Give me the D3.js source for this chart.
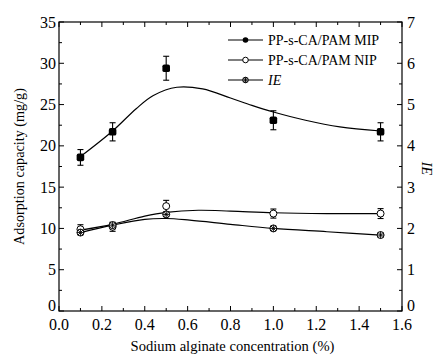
<!DOCTYPE html>
<html>
<head>
<meta charset="utf-8">
<script src="https://cdn.jsdelivr.net/npm/d3@7"></script>
<style>
  body { margin: 0; background: #fff; }
  svg { display: block; }
  svg text { font-family: "Liberation Serif", "Times New Roman", Times, serif; }
</style>
</head>
<body>
<svg width="438" height="356"></svg>
<script>
// measured points
const conc = [0.1, 0.25, 0.5, 1.0, 1.5];
const mipValues = [18.6, 21.7, 29.4, 23.1, 21.7];
const mipErrors = [0.95, 1.1, 1.45, 1.15, 1.1];
const nipValues = [9.9, 10.2, 12.7, 11.8, 11.8];
const nipErrors = [0.55, 0.55, 0.7, 0.55, 0.6];
const ieValues = [1.9, 2.08, 2.34, 2.0, 1.84];

// fitted curves
const mipFit = [[0.1, 18.7], [0.25, 21.8], [0.36, 24.5], [0.44, 26.1], [0.55, 27.1], [0.67, 26.9],
                [0.8, 25.8], [0.9, 24.9], [1.0, 24.1], [1.15, 23.1], [1.31, 22.3], [1.5, 21.8]];
const nipFit = [[0.1, 9.8], [0.25, 10.5], [0.4, 11.5], [0.5, 11.95], [0.65, 12.2], [0.8, 12.1],
                [1.0, 11.9], [1.25, 11.8], [1.5, 11.8]];
const ieFit = [[0.1, 1.9], [0.25, 2.08], [0.4, 2.22], [0.5, 2.24], [0.61, 2.2], [0.8, 2.1],
               [1.0, 2.0], [1.25, 1.92], [1.5, 1.84]];

const xTicks = [0, 0.2, 0.4, 0.6, 0.8, 1.0, 1.2, 1.4, 1.6];
const yTicks = [0, 5, 10, 15, 20, 25, 30, 35];
const ieTicks = [0, 1, 2, 3, 4, 5, 6, 7];
const legendLabels = ["PP-s-CA/PAM MIP", "PP-s-CA/PAM NIP", "IE"];

const pl = 59, pt = 22, pr = 402, pb = 311;
const svg = d3.select("svg");

const x = d3.scaleLinear().domain([0, 1.6]).range([pl, pr]);
const y = d3.scaleLinear().domain([0, 35]).range([pb, pt]);
const yIE = d3.scaleLinear().domain([0, 7]).range([pb, pt]);

// frame
svg.append("rect").attr("x", pl).attr("y", pt).attr("width", pr - pl).attr("height", pb - pt)
  .attr("fill", "none").attr("stroke", "#000").attr("stroke-width", 1.2);

// ticks (inward)
const minorX = d3.range(0, 1.61, 0.1);
const minorY = d3.range(0, 35.1, 2.5);
const minorIE = d3.range(0, 7.01, 0.5);
const tk = svg.append("g").attr("stroke", "#000").attr("stroke-width", 1);
minorX.forEach(v => {
  const len = Math.abs(v * 5 - Math.round(v * 5)) < 1e-6 ? 5 : 3;
  tk.append("line").attr("x1", x(v)).attr("x2", x(v)).attr("y1", pb).attr("y2", pb - len);
  tk.append("line").attr("x1", x(v)).attr("x2", x(v)).attr("y1", pt).attr("y2", pt + len);
});
minorY.forEach(v => {
  const len = v % 5 === 0 ? 5 : 3;
  tk.append("line").attr("x1", pl).attr("x2", pl + len).attr("y1", y(v)).attr("y2", y(v));
});
minorIE.forEach(v => {
  const len = v % 1 === 0 ? 5 : 3;
  tk.append("line").attr("x1", pr).attr("x2", pr - len).attr("y1", yIE(v)).attr("y2", yIE(v));
});

// tick labels
const lab = svg.append("g").attr("font-size", 16).attr("fill", "#000");
xTicks.forEach(v => {
  lab.append("text").attr("x", x(v)).attr("y", pb + 18.5).attr("text-anchor", "middle").text(v.toFixed(1));
});
yTicks.forEach(v => {
  lab.append("text").attr("x", pl - 3).attr("y", y(v) + (v === 0 ? 0 : 5.5)).attr("text-anchor", "end").text(v);
});
ieTicks.forEach(v => {
  lab.append("text").attr("x", pr + 5).attr("y", yIE(v) + (v === 0 ? 0 : 5.5)).attr("text-anchor", "start").text(v);
});

// axis titles
svg.append("text").attr("x", (pl + pr) / 2 + 2).attr("y", 351).attr("text-anchor", "middle")
  .attr("font-size", 14.6).text("Sodium alginate concentration (%)");
svg.append("text").attr("transform", `translate(24,${(pt + pb) / 2}) rotate(-90)`)
  .attr("text-anchor", "middle").attr("font-size", 14.2).text("Adsorption capacity (mg/g)");
svg.append("text").attr("transform", `translate(422,${(pt + pb) / 2 + 2}) rotate(90)`)
  .attr("text-anchor", "middle").attr("font-size", 14.2).attr("font-style", "italic").text("IE");

// fitted curves
const lineLeft = d3.line().x(d => x(d[0])).y(d => y(d[1])).curve(d3.curveCatmullRom.alpha(0.5));
const lineIE = d3.line().x(d => x(d[0])).y(d => yIE(d[1])).curve(d3.curveCatmullRom.alpha(0.5));
svg.append("path").attr("d", lineLeft(mipFit)).attr("fill", "none").attr("stroke", "#000").attr("stroke-width", 1.2);
svg.append("path").attr("d", lineLeft(nipFit)).attr("fill", "none").attr("stroke", "#000").attr("stroke-width", 1.2);
svg.append("path").attr("d", lineIE(ieFit)).attr("fill", "none").attr("stroke", "#000").attr("stroke-width", 1.2);

// error bars
function errorBars(vals, errs) {
  const g = svg.append("g").attr("stroke", "#000").attr("stroke-width", 1.1);
  conc.forEach((c, i) => {
    const cx = x(c), y1 = y(vals[i] + errs[i]), y2 = y(vals[i] - errs[i]);
    g.append("line").attr("x1", cx).attr("x2", cx).attr("y1", y1).attr("y2", y2);
    g.append("line").attr("x1", cx - 3).attr("x2", cx + 3).attr("y1", y1).attr("y2", y1);
    g.append("line").attr("x1", cx - 3).attr("x2", cx + 3).attr("y1", y2).attr("y2", y2);
  });
}
errorBars(mipValues, mipErrors);
errorBars(nipValues, nipErrors);

// markers
function mipMarker(g, cx, cy, r) {
  g.append("rect").attr("x", cx - r).attr("y", cy - r).attr("width", 2 * r).attr("height", 2 * r)
    .attr("rx", r * 0.5).attr("fill", "#000");
}
function mipLegendMarker(g, cx, cy, r) {
  g.append("circle").attr("cx", cx).attr("cy", cy).attr("r", r).attr("fill", "#000");
}
function nipMarker(g, cx, cy, r) {
  g.append("circle").attr("cx", cx).attr("cy", cy).attr("r", r).attr("fill", "#fff")
    .attr("stroke", "#000").attr("stroke-width", 1);
}
function ieMarker(g, cx, cy, r) {
  g.append("circle").attr("cx", cx).attr("cy", cy).attr("r", r).attr("fill", "#fff")
    .attr("stroke", "#000").attr("stroke-width", 1);
  const d = r * 0.75;
  g.append("path").attr("d", `M${cx - d},${cy - d}L${cx + d},${cy + d}M${cx - d},${cy + d}L${cx + d},${cy - d}`
    + `M${cx - r},${cy}L${cx + r},${cy}M${cx},${cy - r}L${cx},${cy + r}`)
    .attr("stroke", "#000").attr("stroke-width", 0.9);
}
const mk = svg.append("g");
conc.forEach((c, i) => {
  nipMarker(mk, x(c), y(nipValues[i]), 3.5);
  ieMarker(mk, x(c), yIE(ieValues[i]), 3.5);
  mipMarker(mk, x(c), y(mipValues[i]), 3.8);
});

// legend
const lg = svg.append("g");
const markers = [mipLegendMarker, nipMarker, ieMarker];
legendLabels.forEach((t, i) => {
  const ly = 40 + i * 20;
  lg.append("line").attr("x1", 228).attr("x2", 263).attr("y1", ly).attr("y2", ly)
    .attr("stroke", "#000").attr("stroke-width", 1.1);
  markers[i](lg, 245.5, ly, 2.8);
  const tx = lg.append("text").attr("x", 268).attr("y", ly + 4.5).attr("font-size", 14).text(t);
  if (i === 2) tx.attr("font-style", "italic");
});
</script>
</body>
</html>
